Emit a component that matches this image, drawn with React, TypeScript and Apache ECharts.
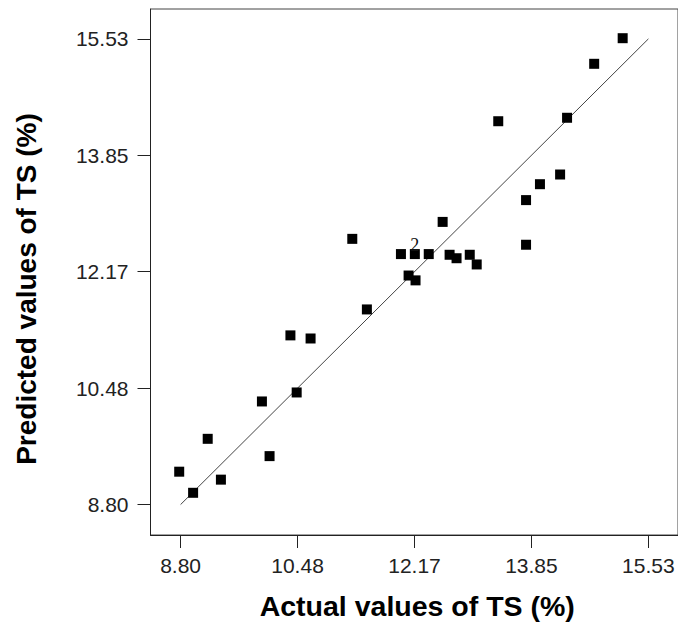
import React, { useEffect, useRef } from "react";
import * as echarts from "echarts";

// Actual vs predicted TS (%) values
const actualTS = [
  8.78, 8.98, 9.19, 9.38, 9.97, 10.08, 10.38, 10.47, 10.67, 11.27, 11.48,
  11.97, 12.08, 12.17, 12.18, 12.37, 12.57, 12.67, 12.77, 12.96, 13.06,
  13.37, 13.77, 13.77, 13.97, 14.26, 14.36, 14.75, 15.16,
];
const predictedTS = [
  9.275, 8.97, 9.75, 9.16, 10.29, 9.5, 11.245, 10.42, 11.2, 12.64, 11.62,
  12.42, 12.11, 12.42, 12.04, 12.42, 12.885, 12.41, 12.36, 12.41, 12.27,
  14.34, 12.555, 13.2, 13.43, 13.57, 14.39, 15.17, 15.54,
];
// number of design points sharing each marker
const pointCounts = [
  1, 1, 1, 1, 1, 1, 1, 1, 1, 1, 1, 1, 1, 2, 1, 1, 1, 1, 1, 1, 1, 1, 1, 1, 1,
  1, 1, 1, 1,
];
const tickValues = [8.8, 10.4825, 12.165, 13.8475, 15.53];
const tickLabels = ["8.80", "10.48", "12.17", "13.85", "15.53"];
const lineEnds = [8.8, 15.53];

const xTitle = "Actual values of TS (%)";
const yTitle = "Predicted values of TS (%)";

function labelFor(v: number): string {
  let best = 0;
  for (let i = 1; i < tickValues.length; i++) {
    if (Math.abs(tickValues[i] - v) < Math.abs(tickValues[best] - v)) best = i;
  }
  return tickLabels[best];
}

export default function App() {
  const ref = useRef<HTMLDivElement>(null);
  useEffect(() => {
    if (!ref.current) return;
    const chart = echarts.init(ref.current, undefined, { renderer: "svg" });
    const sans = "'Liberation Sans', Arial, sans-serif";
    const axisCommon = {
      type: "value" as const,
      axisLine: { show: true, onZero: false, lineStyle: { color: "#222", width: 1 } },
      axisTick: {
        show: true,
        inside: false,
        length: 13,
        customValues: tickValues,
        lineStyle: { color: "#222", width: 1 },
      },
      axisLabel: {
        customValues: tickValues,
        formatter: (v: number) => labelFor(v),
        color: "#222",
        fontFamily: sans,
        fontSize: 21,
      },
      splitLine: { show: false },
      nameLocation: "middle" as const,
    };
    chart.setOption({
      animation: false,
      backgroundColor: "#fff",
      grid: {
        left: 150.5,
        top: 9,
        right: -2,
        bottom: 88.5,
        show: true,
        borderColor: "#444",
        borderWidth: 1,
        backgroundColor: "transparent",
      },
      xAxis: {
        ...axisCommon,
        min: 8.367,
        max: 15.956,
        name: xTitle,
        nameGap: 56,
        nameTextStyle: {
          fontFamily: sans,
          fontSize: 28.5,
          fontWeight: "bold",
          color: "#000",
          padding: [0, 0, 0, 6],
        },
        axisLabel: { ...axisCommon.axisLabel, margin: 20 },
      },
      yAxis: {
        ...axisCommon,
        min: 8.36,
        max: 15.962,
        name: yTitle,
        nameGap: 110,
        nameTextStyle: {
          fontFamily: sans,
          fontSize: 28,
          fontWeight: "bold",
          color: "#000",
          padding: [0, 34, 0, 0],
        },
        axisLabel: { ...axisCommon.axisLabel, margin: 22 },
      },
      series: [
        {
          type: "line",
          data: lineEnds.map((v) => [v, v]),
          symbol: "none",
          lineStyle: { color: "#444", width: 1 },
          silent: true,
          z: 1,
        },
        {
          type: "scatter",
          data: actualTS.map((x, i) => [x, predictedTS[i], pointCounts[i]]),
          symbol: "rect",
          symbolSize: 10,
          itemStyle: { color: "#000", opacity: 1 },
          z: 2,
          label: {
            show: true,
            position: "inside",
            offset: [0, -9],
            formatter: (p: any) => (p.value[2] > 1 ? String(p.value[2]) : ""),
            fontFamily: "'Liberation Serif', 'Times New Roman', serif",
            fontSize: 18,
            color: "#111",
          },
        },
      ],
    });
    return () => chart.dispose();
  }, []);
  return (
    <div
      ref={ref}
      style={{ position: "absolute", left: 0, top: 0, width: 678, height: 625 }}
    />
  );
}
